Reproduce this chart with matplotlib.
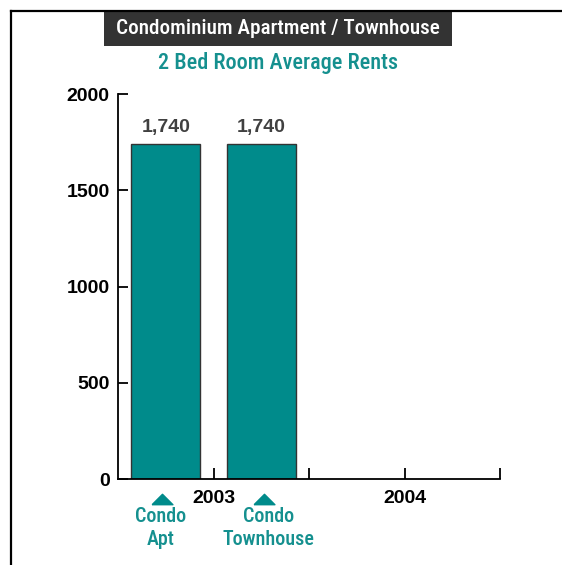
import matplotlib
matplotlib.use("Agg")
import matplotlib.pyplot as plt
from matplotlib.lines import Line2D
from matplotlib.patches import Rectangle
import matplotlib.transforms as mtransforms

# data
series_names = ["Condo\nApt", "Condo\nTownhouse"]
series_values = [1740, 1740]
year_labels = ["2003", "2004"]
value_labels = ["1,740", "1,740"]
y_ticks = [0, 500, 1000, 1500, 2000]

TEAL = "#008B8B"
TEXT_TEAL = "#15908F"
NARROW = ["Roboto Condensed", "Archivo Narrow", "Liberation Sans", "DejaVu Sans"]
SANS = ["Liberation Sans", "DejaVu Sans"]

fig = plt.figure(figsize=(5.62, 5.65), dpi=100)
W, H = 562, 565
ax = fig.add_axes([118 / W, 1 - 479 / H, (500 - 118) / W, (479 - 94) / H])

x_pos = [0.25, 0.75]
ax.bar(x_pos, series_values, width=0.36, color=TEAL, edgecolor="#333333", linewidth=1.0)
for x, v, lab in zip(x_pos, series_values, value_labels):
    ax.text(x, v + 40, lab, ha="center", va="bottom", fontsize=14, fontweight="bold",
            color="#404040", family=SANS)

ax.set_xlim(0, 2)
ax.set_ylim(0, 2000)
ax.set_yticks(y_ticks)
ax.set_yticklabels([str(t) for t in y_ticks], fontsize=14, fontweight="bold", family=SANS)
ax.set_xticks([0.5, 1.0, 1.5, 2.0])
ax.set_xticklabels([year_labels[0], "", year_labels[1], ""], fontsize=14, fontweight="bold", family=SANS)
ax.tick_params(axis="y", direction="in", length=7, width=1.3, pad=6, colors="black")
ax.tick_params(axis="x", direction="in", length=8, width=1.3, pad=8, colors="black")
for s in ["top", "right"]:
    ax.spines[s].set_visible(False)
for s in ["left", "bottom"]:
    ax.spines[s].set_linewidth(1.3)

# series markers and labels below axis
trans = mtransforms.blended_transform_factory(ax.transData, ax.transAxes)
tri = [(-1, -0.5), (1, -0.5), (0, 0.5), (-1, -0.5)]
marker_x = [0.23, 0.764]
label_x = [0.222, 0.79]
for mx, lx, name in zip(marker_x, label_x, series_names):
    ax.plot([mx], [-0.051], marker=tri, markersize=15, color=TEAL,
            transform=trans, clip_on=False, linestyle="none")
    ax.text(lx, -0.128, name, transform=trans, ha="center", va="center",
            fontsize=14.5, color=TEXT_TEAL, family=NARROW, fontweight="medium", linespacing=1.28)

# title box
fig.add_artist(Rectangle((104 / W, 1 - 46 / H), (452 - 104) / W, 34 / H,
                         transform=fig.transFigure, facecolor="#333333", edgecolor="none"))
fig.text(278 / W, 1 - 28.5 / H, "Condominium Apartment / Townhouse", ha="center", va="center",
         color="white", fontsize=15.2, family=NARROW, fontweight="medium")
fig.text(278 / W, 1 - 63 / H, "2 Bed Room Average Rents", ha="center", va="center",
         color=TEXT_TEAL, fontsize=16, family=NARROW, fontweight="medium")

# frame lines
fig.add_artist(Line2D([11 / W, 11 / W], [0, 1 - 11 / H], transform=fig.transFigure,
                      color="black", linewidth=1.6))
fig.add_artist(Line2D([11 / W, 1], [1 - 11 / H, 1 - 11 / H], transform=fig.transFigure,
                      color="black", linewidth=1.6))

fig.savefig("out.png", dpi=100)
